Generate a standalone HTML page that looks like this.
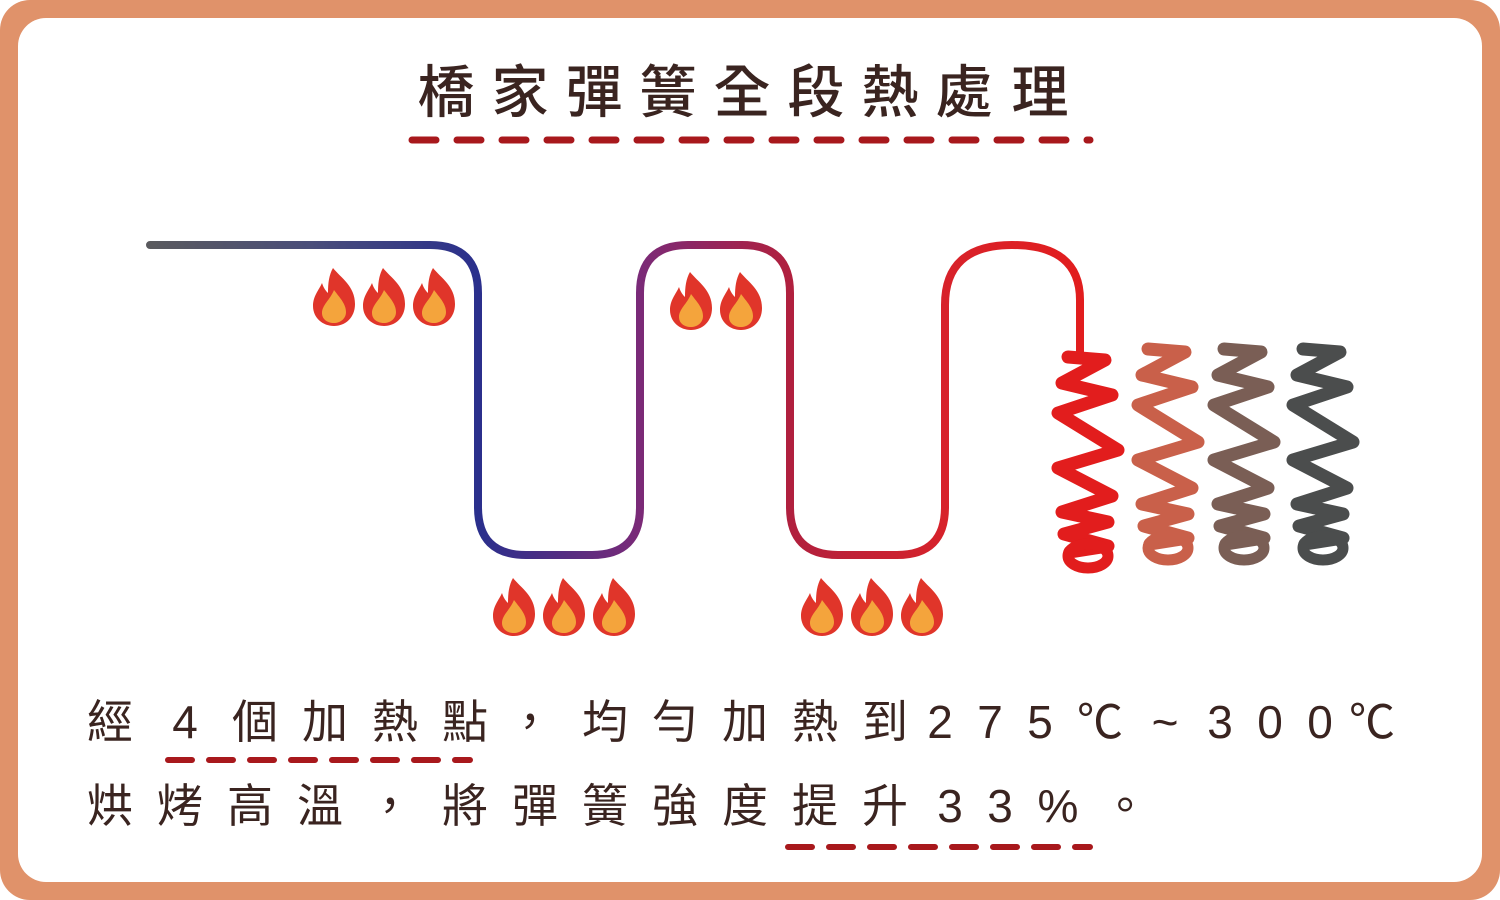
<!DOCTYPE html>
<html><head><meta charset="utf-8"><style>
html,body{margin:0;padding:0;background:#fff}
svg{display:block}
text{font-family:"Liberation Sans","Noto Sans CJK TC",sans-serif;fill:#3a2420}
</style></head><body>
<svg width="1500" height="900" viewBox="0 0 1500 900" xmlns="http://www.w3.org/2000/svg">
<defs>
<linearGradient id="g" x1="150" y1="0" x2="1090" y2="0" gradientUnits="userSpaceOnUse">
<stop offset="0" stop-color="#5a5a5e"/>
<stop offset="0.17" stop-color="#4a4e7a"/>
<stop offset="0.35" stop-color="#2a2f8c"/>
<stop offset="0.52" stop-color="#7a2a78"/>
<stop offset="0.68" stop-color="#b0203e"/>
<stop offset="0.85" stop-color="#d8222a"/>
<stop offset="1" stop-color="#e21d1d"/>
</linearGradient>
<g id="f">
<path d="M20 0 C28 10 42 18 42 36 C42 50 32 58 21 58 C10 58 0 50 0 38 C0 28 6 22 9 15 C11 21 13 23 15 25 C15 15 16 7 20 0Z" fill="#e0352a"/>
<path d="M21 22 C27 30 33 36 33 44 C33 51 27 55 21 55 C14 55 9 51 9 45 C9 37 17 32 21 22Z" fill="#f4a43c"/>
</g>
<g id="s">
<polyline points="1068,357 1105,360 1062,383 1112,395 1058,413 1118,450 1058,468 1112,496 1062,512 1108,522 1064,534 1108,546 1070,552" fill="none" stroke-width="13" stroke-linecap="round" stroke-linejoin="round"/>
<ellipse cx="1088" cy="556" rx="20" ry="12" fill="none" stroke-width="11"/>
</g>
</defs>
<rect x="0" y="0" width="1500" height="900" rx="30" fill="#e0926a"/>
<rect x="18" y="18" width="1464" height="864" rx="28" fill="#fff"/>

<g font-size="57" text-anchor="middle" font-weight="500">
<text x="446" y="112">橋</text><text x="520" y="112">家</text><text x="594" y="112">彈</text><text x="668" y="112">簧</text><text x="742" y="112">全</text><text x="816" y="112">段</text><text x="890" y="112">熱</text><text x="964" y="112">處</text><text x="1040" y="112">理</text>
</g>
<line x1="412" y1="140" x2="1090" y2="140" stroke="#a8181c" stroke-width="7" stroke-dasharray="24 21" stroke-linecap="round"/>

<path d="M150 245 L430 245 Q478 245 478 293 L478 507 Q478 555 526 555 L592 555 Q640 555 640 507 L640 293 Q640 245 688 245 L742 245 Q790 245 790 293 L790 507 Q790 555 838 555 L897 555 Q945 555 945 507 L945 305 Q945 245 1012 245 Q1080 245 1080 300 L1080 352" fill="none" stroke="url(#g)" stroke-width="8" stroke-linecap="round"/>

<use href="#s" stroke="#e21d1d"/>
<use href="#s" stroke="#c9604a" transform="translate(80,-8)"/>
<use href="#s" stroke="#7a5e55" transform="translate(156,-8)"/>
<use href="#s" stroke="#4b4d4d" transform="translate(235,-8)"/>

<use href="#f" x="313" y="268"/><use href="#f" x="363" y="268"/><use href="#f" x="413" y="268"/>
<use href="#f" x="670" y="272"/><use href="#f" x="720" y="272"/>
<use href="#f" x="493" y="578"/><use href="#f" x="543" y="578"/><use href="#f" x="593" y="578"/>
<use href="#f" x="801" y="578"/><use href="#f" x="851" y="578"/><use href="#f" x="901" y="578"/>

<g font-size="46" text-anchor="middle">
<text x="110" y="738">經</text><text x="185" y="738">4</text><text x="255" y="738">個</text><text x="325" y="738">加</text><text x="395" y="738">熱</text><text x="465" y="738">點</text><text x="530" y="738">，</text><text x="605" y="738">均</text><text x="675" y="738">勻</text><text x="745" y="738">加</text><text x="815" y="738">熱</text><text x="885" y="738">到</text><text x="940" y="738">2</text><text x="990" y="738">7</text><text x="1040" y="738">5</text><text x="1100" y="738">℃</text><text x="1165" y="738">~</text><text x="1220" y="738">3</text><text x="1270" y="738">0</text><text x="1320" y="738">0</text><text x="1372" y="738">℃</text>
<text x="110" y="822">烘</text><text x="180" y="822">烤</text><text x="250" y="822">高</text><text x="320" y="822">溫</text><text x="390" y="822">，</text><text x="465" y="822">將</text><text x="535" y="822">彈</text><text x="605" y="822">簧</text><text x="675" y="822">強</text><text x="745" y="822">度</text><text x="815" y="822">提</text><text x="885" y="822">升</text><text x="950" y="822">3</text><text x="1000" y="822">3</text><text x="1058" y="822">%</text><text x="1125" y="822">。</text>
</g>
<line x1="168" y1="760" x2="470" y2="760" stroke="#a8181c" stroke-width="6" stroke-dasharray="24 17" stroke-linecap="round"/>
<line x1="788" y1="847" x2="1090" y2="847" stroke="#a8181c" stroke-width="6" stroke-dasharray="24 17" stroke-linecap="round"/>
</svg>
</body></html>
